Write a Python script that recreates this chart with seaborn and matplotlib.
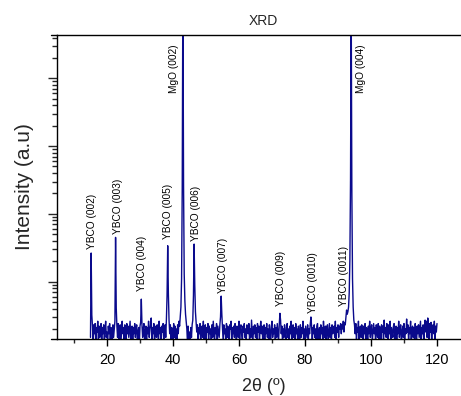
import numpy as np
import pandas as pd
import matplotlib
matplotlib.use("Agg")
import matplotlib.pyplot as plt
from matplotlib.ticker import LogLocator, NullFormatter, MultipleLocator
import seaborn as sns

# Scan grid: 2-theta from 15 to 120 degrees in 0.2 degree steps
scan_start = 15.0
scan_step = 0.2

# Measured intensity (counts), one row per 2 degrees
intensity = [
    15, 264, 32, 22, 13, 23, 17, 24, 12, 21,        # 15
    18, 26, 13, 22, 15, 20, 24, 12, 21, 17,         # 17
    23, 13, 20, 26, 15, 18, 12, 22, 17, 24,         # 19
    13, 21, 18, 12, 23, 15, 20, 26, 449, 41,        # 21
    22, 15, 24, 13, 20, 23, 12, 18, 26, 17,         # 23
    21, 13, 23, 18, 12, 24, 17, 22, 15, 20,         # 25
    26, 13, 18, 22, 12, 21, 17, 24, 15, 20,         # 27
    23, 13, 18, 21, 12, 22, 25, 55, 23, 15,         # 29
    20, 24, 13, 18, 22, 12, 21, 17, 26, 15,         # 31
    20, 23, 29, 13, 21, 17, 24, 12, 18, 22,         # 33
    15, 23, 20, 12, 26, 17, 21, 13, 22, 18,         # 35
    24, 13, 20, 23, 15, 27, 62, 338, 66, 27,        # 37
    17, 23, 13, 21, 18, 12, 24, 15, 22, 13,         # 39
    20, 12, 23, 17, 26, 22, 30, 42, 110, 2400,      # 41
    3000000, 2600, 130, 52, 33, 26, 20, 12, 22, 13, # 43
    18, 11, 21, 15, 23, 27, 62, 358, 88, 36,        # 45
    26, 18, 23, 13, 21, 17, 24, 12, 20, 22,         # 47
    15, 26, 13, 20, 23, 12, 21, 18, 24, 13,         # 49
    22, 17, 20, 12, 23, 15, 26, 18, 13, 21,         # 51
    17, 24, 12, 22, 18, 15, 23, 30, 61, 33,         # 53
    21, 13, 23, 17, 20, 12, 24, 15, 22, 18,         # 55
    13, 23, 20, 26, 12, 21, 17, 22, 15, 24,         # 57
    18, 12, 22, 20, 15, 26, 13, 21, 23, 17,         # 59
    12, 22, 18, 24, 15, 20, 13, 23, 21, 17,         # 61
    24, 13, 20, 15, 27, 18, 12, 22, 17, 23,         # 63
    15, 21, 12, 24, 18, 22, 13, 20, 26, 17,         # 65
    22, 13, 18, 23, 12, 21, 17, 24, 15, 20,         # 67
    13, 23, 18, 12, 22, 26, 15, 20, 17, 23,         # 69
    12, 21, 15, 24, 18, 13, 23, 34, 27, 17,         # 71
    22, 12, 20, 15, 23, 18, 13, 21, 24, 15,         # 73
    20, 12, 22, 17, 26, 13, 18, 23, 15, 21,         # 75
    12, 24, 17, 20, 13, 22, 18, 12, 23, 15,         # 77
    21, 17, 26, 13, 20, 12, 22, 18, 15, 23,         # 79
    13, 20, 17, 24, 30, 22, 12, 21, 17, 23,         # 81
    15, 20, 12, 22, 24, 13, 18, 21, 12, 23,         # 83
    17, 21, 13, 26, 18, 15, 22, 12, 20, 23,         # 85
    13, 18, 24, 15, 21, 12, 23, 17, 20, 22,         # 87
    15, 26, 13, 21, 18, 23, 15, 22, 20, 24,         # 89
    17, 23, 20, 26, 18, 25, 23, 30, 38, 33,         # 91
    36, 42, 68, 210, 3200, 1500000, 2100, 110, 42, 27,  # 93
    23, 17, 24, 13, 21, 18, 26, 12, 20, 22,         # 95
    15, 23, 18, 12, 22, 17, 24, 13, 21, 20,         # 97
    12, 22, 17, 26, 15, 20, 23, 13, 18, 24,         # 99
    17, 21, 12, 23, 18, 15, 24, 13, 22, 20,         # 101
    13, 23, 18, 22, 12, 27, 17, 21, 15, 24,         # 103
    20, 12, 23, 17, 26, 13, 21, 18, 15, 22,         # 105
    24, 13, 18, 22, 12, 21, 17, 26, 15, 20,         # 107
    23, 12, 18, 22, 15, 24, 13, 20, 17, 28,         # 109
    18, 23, 13, 21, 17, 26, 12, 20, 22, 15,         # 111
    21, 13, 24, 18, 12, 22, 17, 23, 15, 20,         # 113
    26, 13, 21, 17, 23, 12, 20, 27, 18, 26,         # 115
    15, 29, 22, 13, 24, 18, 25, 12, 21, 23,         # 117
    17, 26, 13, 22, 18, 24,                         # 119
]

# Reflection labels and where their text sits (2-theta, intensity)
peak_labels = ["YBCO (002)", "YBCO (003)", "YBCO (004)", "YBCO (005)",
               "MgO (002)", "YBCO (006)", "YBCO (007)", "YBCO (009)",
               "YBCO (0010)", "YBCO (0011)", "MgO (004)"]
label_x = [15.6, 23.2, 30.6, 38.4, 40.3, 47.0, 55.2, 72.7, 82.4, 91.7, 97.0]
label_y = [305, 509, 73, 430, 60400, 401, 69, 43.7, 34.7, 43.7, 60400]

two_theta = scan_start + scan_step * np.arange(len(intensity))
df = pd.DataFrame({"two_theta": two_theta, "intensity": intensity})

sns.set_style("ticks")
plt.rcParams["font.family"] = ["Liberation Sans", "DejaVu Sans"]

fig = plt.figure(figsize=(4.61, 3.96), dpi=100)
ax = fig.add_axes([0.1230, 0.1439, 0.8965, 0.7677])

sns.lineplot(data=df, x="two_theta", y="intensity", ax=ax,
             color="#0a0a8c", linewidth=1.0, estimator=None, sort=False)

ax.set_yscale("log")
ax.set_xlim(4.76, 130)
ax.set_ylim(14.2, 4.36e5)

ax.xaxis.set_major_locator(MultipleLocator(20))
ax.xaxis.set_minor_locator(MultipleLocator(10))
ax.yaxis.set_major_locator(LogLocator(base=10))
ax.yaxis.set_minor_locator(LogLocator(base=10, subs=np.arange(2, 10)))
ax.yaxis.set_major_formatter(NullFormatter())
ax.yaxis.set_minor_formatter(NullFormatter())

ax.tick_params(axis="x", which="major", length=5, width=1, direction="out",
               labelsize=10.5, pad=5, colors="black")
ax.tick_params(axis="x", which="minor", length=3, width=1, direction="out")
ax.tick_params(axis="y", which="major", length=6.5, width=1, direction="out")
ax.tick_params(axis="y", which="minor", length=3.3, width=1, direction="out")
ax.tick_params(top=False, right=False, which="both")

for side in ["left", "bottom", "top", "right"]:
    ax.spines[side].set_color("black")
    ax.spines[side].set_linewidth(1.0)

# End marks at the top and bottom of the intensity axis
for yy in (0, 1):
    ax.plot([-0.015, 0], [yy, yy], transform=ax.transAxes, color="black",
            linewidth=1.0, clip_on=False)

for text, xx, yy in zip(peak_labels, label_x, label_y):
    ax.text(xx, yy, text, rotation=90, ha="center", va="bottom",
            fontsize=7.3, color="black")

ax.set_title("XRD", fontsize=10, pad=7)
ax.set_xlabel("2θ (º)", fontsize=13, labelpad=8)
ax.set_ylabel("Intensity (a.u)", fontsize=15, labelpad=6)

fig.savefig("out.png", dpi=100)
